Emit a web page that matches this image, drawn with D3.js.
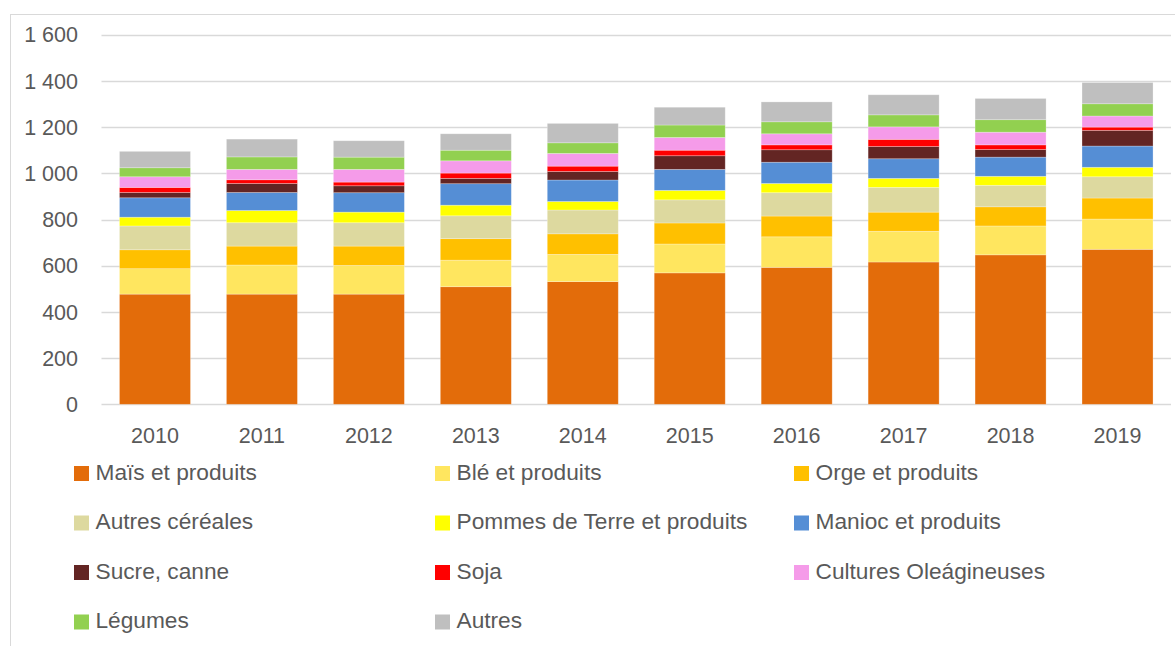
<!DOCTYPE html>
<html>
<head>
<meta charset="utf-8">
<script src="https://cdn.jsdelivr.net/npm/d3@7"></script>
<style>
  body { margin: 0; background: #fff; }
  svg text { font-family: "Liberation Sans", Arial, sans-serif; fill: #595959; }
</style>
</head>
<body>
<div id="chart"></div>
<script>
// data
var years = ["2010", "2011", "2012", "2013", "2014", "2015", "2016", "2017", "2018", "2019"];
var mais = [477, 477, 477, 509, 531, 569, 593, 616, 647, 671];
var ble = [110, 126, 124, 115, 118, 125, 132, 133, 125, 131];
var orge = [82, 82, 84, 93, 89, 91, 90, 83, 83, 91];
var autresCereales = [103, 101, 101, 99, 103, 100, 101, 107, 93, 92];
var pommes = [38, 53, 46, 46, 37, 41, 40, 39, 39, 41];
var manioc = [84, 78, 84, 93, 93, 91, 92, 85, 83, 92];
var sucre = [23, 39, 30, 23, 37, 59, 54, 53, 33, 68];
var soja = [22, 16, 16, 23, 23, 24, 21, 31, 20, 14];
var oleagineuses = [46, 45, 55, 53, 55, 55, 48, 54, 55, 48];
var legumes = [39, 54, 53, 46, 46, 54, 52, 52, 54, 53];
var autres = [71, 77, 71, 71, 84, 77, 86, 87, 92, 92];
var yTicks = [0, 200, 400, 600, 800, 1000, 1200, 1400, 1600];

var series = [
  {name: "Maïs et produits", values: mais, color: "#e36c0a"},
  {name: "Blé et produits", values: ble, color: "#ffe65f"},
  {name: "Orge et produits", values: orge, color: "#ffc000"},
  {name: "Autres céréales", values: autresCereales, color: "#ddd99f"},
  {name: "Pommes de Terre et produits", values: pommes, color: "#ffff00"},
  {name: "Manioc et produits", values: manioc, color: "#558ed5"},
  {name: "Sucre, canne", values: sucre, color: "#632523"},
  {name: "Soja", values: soja, color: "#ff0000"},
  {name: "Cultures Oleágineuses", values: oleagineuses, color: "#f59be9"},
  {name: "Légumes", values: legumes, color: "#92d050"},
  {name: "Autres", values: autres, color: "#bfbfbf"}
];

// table for d3.stack
var table = years.map(function(y, i) {
  var row = {year: y};
  series.forEach(function(s) { row[s.name] = s.values[i]; });
  return row;
});

var W = 1175, H = 646;
var svg = d3.select("#chart").append("svg")
    .attr("width", W)
    .attr("height", H);

// chart border
svg.append("rect")
    .attr("x", 10.5).attr("y", 14.5)
    .attr("width", W).attr("height", H)
    .attr("fill", "none")
    .attr("stroke", "#d9d9d9");

var x = d3.scaleBand()
    .domain(years)
    .range([101.5, 1171])
    .paddingInner(0.336)
    .paddingOuter(0.168);

var y = d3.scaleLinear()
    .domain([0, 1600])
    .range([404.3, 34.7]);

var fr = d3.formatLocale({decimal: ",", thousands: "\u00a0", grouping: [3], currency: ["", " €"]});
var fmt = fr.format(",");

// gridlines
svg.append("g").attr("class", "grid")
  .selectAll("line")
  .data(yTicks)
  .enter().append("line")
    .attr("x1", 101.5)
    .attr("x2", 1171)
    .attr("y1", function(d) { return Math.round(y(d)) + 0.5; })
    .attr("y2", function(d) { return Math.round(y(d)) + 0.5; })
    .attr("stroke", "#d9d9d9")
    .attr("stroke-width", 1.5);

// y labels
svg.append("g").attr("class", "ylabels")
  .selectAll("text")
  .data(yTicks)
  .enter().append("text")
    .attr("x", 78)
    .attr("y", function(d) { return y(d); })
    .attr("dy", "0.36em")
    .attr("text-anchor", "end")
    .attr("font-size", "21.5px")
    .text(function(d) { return fmt(d); });

// stacked bars
var stack = d3.stack().keys(series.map(function(s) { return s.name; }));
var stacked = stack(table);

svg.append("g").attr("class", "bars")
  .selectAll("g")
  .data(stacked)
  .enter().append("g")
    .attr("fill", function(d, i) { return series[i].color; })
  .selectAll("rect")
  .data(function(d) { return d; })
  .enter().append("rect")
    .attr("x", function(d) { return x(d.data.year); })
    .attr("width", x.bandwidth())
    .attr("y", function(d) { return y(d[1]); })
    .attr("height", function(d) { return y(d[0]) - y(d[1]); })
    .attr("stroke", "#ffffff")
    .attr("stroke-opacity", 0.35)
    .attr("stroke-width", 0.75);

// x labels
svg.append("g").attr("class", "xlabels")
  .selectAll("text")
  .data(years)
  .enter().append("text")
    .attr("x", function(d) { return x(d) + x.bandwidth() / 2; })
    .attr("y", 443)
    .attr("text-anchor", "middle")
    .attr("font-size", "21.5px")
    .text(function(d) { return d; });

// legend: 3 columns
var colX = [74, 435, 794];
var legend = svg.append("g").attr("class", "legend")
  .selectAll("g")
  .data(series)
  .enter().append("g")
    .attr("transform", function(d, i) {
      return "translate(" + colX[i % 3] + "," + (466 + Math.floor(i / 3) * 49.5) + ")";
    });

legend.append("rect")
    .attr("width", 15)
    .attr("height", 15)
    .attr("fill", function(d) { return d.color; });

legend.append("text")
    .attr("x", 21.5)
    .attr("y", 13.5)
    .attr("font-size", "22.7px")
    .text(function(d) { return d.name; });
</script>
</body>
</html>
